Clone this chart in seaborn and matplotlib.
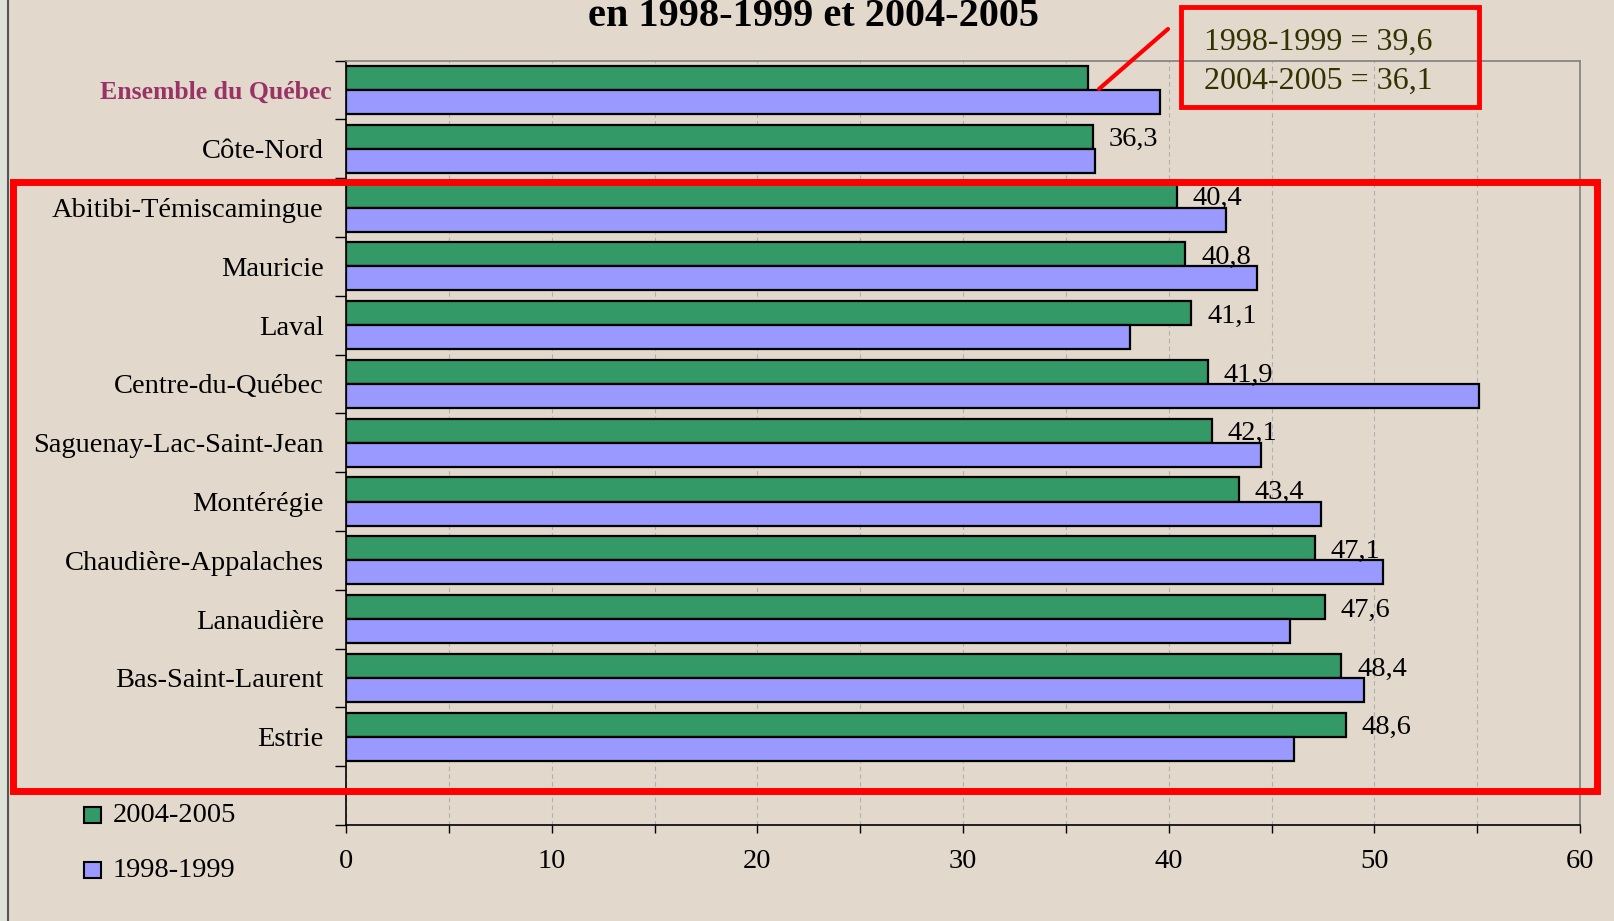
import pandas as pd
import numpy as np
import matplotlib
matplotlib.use("Agg")
import matplotlib.pyplot as plt
import matplotlib.patches as mpatches
from matplotlib.lines import Line2D
from matplotlib.ticker import MultipleLocator, FixedLocator
from matplotlib.transforms import ScaledTranslation
import seaborn as sns

# ------------------------------
# data
# ------------------------------
regions = ["Ensemble du Québec", "Côte-Nord", "Abitibi-Témiscamingue", "Mauricie",
           "Laval", "Centre-du-Québec", "Saguenay-Lac-Saint-Jean", "Montérégie",
           "Chaudière-Appalaches", "Lanaudière", "Bas-Saint-Laurent", "Estrie"]
val_2004 = [36.1, 36.3, 40.4, 40.8, 41.1, 41.9, 42.1, 43.4, 47.1, 47.6, 48.4, 48.6]
val_1998 = [39.6, 36.4, 42.8, 44.3, 38.1, 55.1, 44.5, 47.4, 50.4, 45.9, 49.5, 46.1]
periods = ["2004-2005", "1998-1999"]
colors = ["#339966", "#9999FF"]
title = "en 1998-1999 et 2004-2005"

df = pd.DataFrame({
    "region": regions * 2,
    "period": [periods[0]] * len(regions) + [periods[1]] * len(regions),
    "value": val_2004 + val_1998,
})

def fr(v):
    return f"{v:.1f}".replace(".", ",")

# ------------------------------
# style
# ------------------------------
sns.set_style("ticks")
plt.rcParams["font.family"] = ["Liberation Serif", "DejaVu Serif"]
plt.rcParams["text.color"] = "black"
plt.rcParams["xtick.color"] = "black"
plt.rcParams["ytick.color"] = "black"
plt.rcParams["xtick.labelcolor"] = "black"
plt.rcParams["ytick.labelcolor"] = "black"
bg = "#E2D8CC"
W, H = 1614, 921

fig = plt.figure(figsize=(W / 100, H / 100), dpi=100, facecolor=bg)

def fx(px):
    return px / W

def fy(py):
    return 1 - py / H

ax = fig.add_axes([fx(346), fy(825), fx(1580) - fx(346), fy(60.5) - fy(825)])
ax.set_facecolor(bg)

sns.barplot(data=df, y="region", x="value", hue="period", hue_order=periods,
            order=regions, palette=colors, saturation=1, width=0.82,
            edgecolor="black", linewidth=1.6, orient="h", ax=ax, legend=False,
            zorder=3)

ax.set_xlim(0, 60)
ax.set_ylim(12.5, -0.5)
ax.set_xlabel("")
ax.set_ylabel("")

# x axis ticks / grid
ax.xaxis.set_major_locator(MultipleLocator(10))
ax.xaxis.set_minor_locator(MultipleLocator(5))
ax.tick_params(axis="x", which="both", direction="out", length=6, width=1,
               color="black", labelcolor="black", labelsize=20.5, pad=11)
ax.grid(axis="x", which="both", color="#B0B0B0", linestyle=(0, (4, 3)), lw=0.8)
ax.set_axisbelow(True)

# y axis: labels at centers, tick marks at boundaries
ax.yaxis.set_minor_locator(FixedLocator(np.arange(-0.5, 12.6, 1)))
ax.tick_params(axis="y", which="major", length=0, labelsize=20.5, pad=16,
               labelcolor="black")
ax.tick_params(axis="y", which="minor", direction="out", length=8, width=1, color="black")
lab0 = ax.get_yticklabels()[0]
lab0.set_color("#993366")
lab0.set_fontweight("bold")
lab0.set_fontsize(18.5)
lab0.set_transform(lab0.get_transform() + ScaledTranslation(0.08, 0, fig.dpi_scale_trans))

for side in ["left", "bottom"]:
    ax.spines[side].set_color("black")
    ax.spines[side].set_linewidth(1.2)
for side in ["top", "right"]:
    ax.spines[side].set_visible(True)
    ax.spines[side].set_color("#808080")
    ax.spines[side].set_linewidth(1.2)

# value labels on the 2004-2005 bars (not on the province total)
labels = [""] + [fr(v) for v in val_2004[1:]]
texts = ax.bar_label(ax.containers[0], labels=labels, padding=11.5, fontsize=20.5,
                     color="black", zorder=5)
for t in texts:
    t.xyann = (t.xyann[0], t.xyann[1] - 2.2)

# title
fig.text(fx(813), fy(16), title, ha="center", va="center", fontsize=29,
         fontweight="bold", color="black")

# annotation box for the province total
fig.patches.append(mpatches.Rectangle((fx(1181), fy(107)), fx(1479) - fx(1181),
                                      fy(7) - fy(107), fill=False, edgecolor="#FF0000",
                                      lw=3.5, transform=fig.transFigure, figure=fig))
fig.text(fx(1204), fy(42), f"{periods[1]} = {fr(val_1998[0])}", ha="left", va="center",
         fontsize=23, color="#333300")
fig.text(fx(1204), fy(81), f"{periods[0]} = {fr(val_2004[0])}", ha="left", va="center",
         fontsize=23, color="#333300")
fig.add_artist(Line2D([fx(1168), fx(1099)], [fy(29), fy(89)], color="#FF0000", lw=3))

# big red frame around the regions
fig.patches.append(mpatches.Rectangle((fx(13), fy(791)), fx(1597) - fx(13),
                                      fy(182.5) - fy(791), fill=False, edgecolor="#FF0000",
                                      lw=5, transform=fig.transFigure, figure=fig, zorder=6))

# legend drawn by hand at the bottom left
for i, (lab, col) in enumerate(zip(periods, colors)):
    yc = 815 + i * 55
    fig.patches.append(mpatches.Rectangle((fx(84), fy(yc + 8)), fx(101) - fx(84),
                                          fy(yc - 8) - fy(yc + 8), facecolor=col,
                                          edgecolor="black", lw=1.5,
                                          transform=fig.transFigure, figure=fig))
    fig.text(fx(113), fy(yc), lab, ha="left", va="center", fontsize=20.5, color="black")

# thin dark edge at the very left of the slide
fig.patches.append(mpatches.Rectangle((0, 0), fx(7), 1, facecolor="#DDE3D8",
                                      edgecolor="none", transform=fig.transFigure, figure=fig))
fig.add_artist(Line2D([fx(8), fx(8)], [0, 1], color="#555555", lw=1.5))

fig.savefig("out.png", dpi=100, facecolor=bg)
